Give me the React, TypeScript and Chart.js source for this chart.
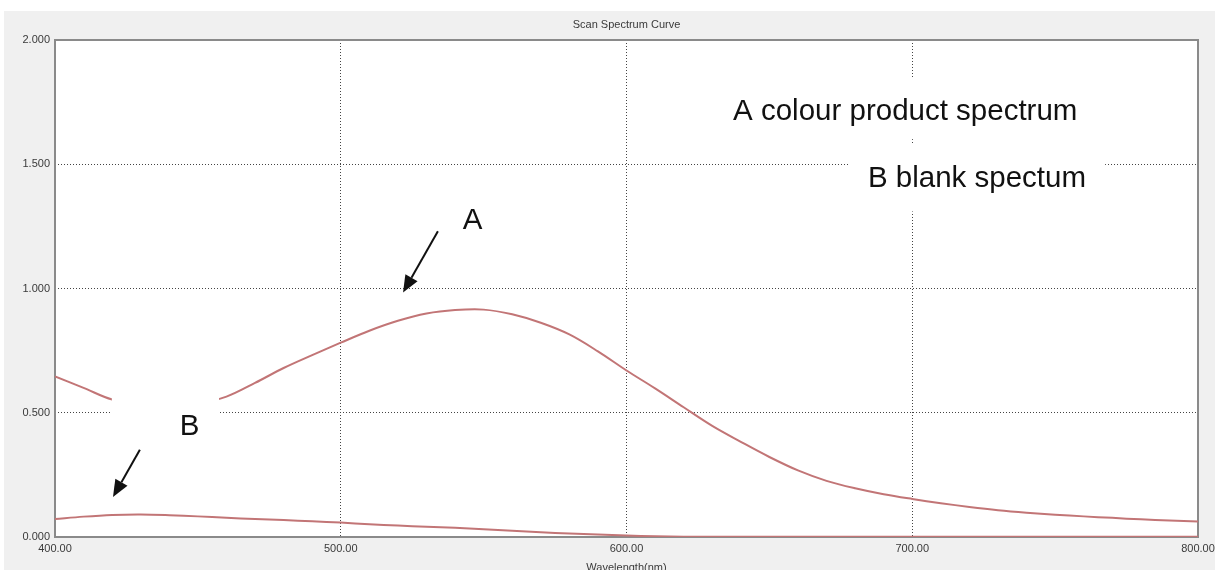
import React, { useEffect, useRef } from 'react';
import { Chart, registerables } from 'chart.js';

Chart.register(...registerables);

// Wavelength grid (nm) for both scans
const wavelengths = [
  400, 410, 420, 430, 440, 450, 460, 470, 480, 490,
  500, 510, 520, 530, 540, 550, 560, 570, 580, 590,
  600, 610, 620, 630, 640, 650, 660, 670, 680, 690,
  700, 710, 720, 730, 740, 750, 760, 770, 780, 790, 800,
];

// A: coloured product absorbance
const colourProduct = [
  0.646, 0.600, 0.553, 0.535, 0.530, 0.538, 0.565, 0.620, 0.680, 0.732,
  0.782, 0.830, 0.870, 0.899, 0.913, 0.915, 0.896, 0.862, 0.815, 0.747,
  0.670, 0.598, 0.522, 0.447, 0.383, 0.322, 0.268, 0.226, 0.196, 0.172,
  0.153, 0.136, 0.121, 0.108, 0.098, 0.090, 0.083, 0.077, 0.071, 0.066, 0.062,
];

// B: blank absorbance
const blankScan = [
  0.072, 0.082, 0.089, 0.091, 0.088, 0.083, 0.077, 0.072, 0.068, 0.063,
  0.058, 0.051, 0.046, 0.041, 0.037, 0.031, 0.025, 0.019, 0.014, 0.010,
  0.006, 0.003, 0.001, 0.001, 0.001, 0.001, 0.001, 0.001, 0.001, 0.001,
  0.001, 0.001, 0.001, 0.001, 0.001, 0.001, 0.001, 0.001, 0.001, 0.001, 0.001,
];

const xTickStep = 100;
const yTickStep = 0.5;
const chartTitle = 'Scan Spectrum Curve';
const xAxisTitle = 'Wavelength(nm)';

// Callout texts and arrows, positioned in data units (nm, absorbance)
const notes = [
  { text: 'A colour product spectrum', x: 637.3, y: 1.677, align: 'left' },
  { text: 'B blank spectum', x: 684.5, y: 1.407, align: 'left' },
  { text: 'A', x: 546.1, y: 1.238, align: 'center' },
  { text: 'B', x: 447.1, y: 0.411, align: 'center' },
];
// Opaque white text boxes: [x1, y1, x2, y2]
const noteBoxes = [
  [634.5, 1.843, 760.5, 1.601],
  [678.2, 1.581, 767.5, 1.310],
  [419.9, 0.573, 457.4, 0.331],
];
// Arrows: [fromX, fromY, toX, toY]
const arrows = [
  [534.0, 1.230, 521.8, 0.984],
  [429.7, 0.351, 420.3, 0.161],
];

const LINE_COLOR = '#c27576';
const FONT = "'Liberation Sans', Arial, sans-serif";

const decorPlugin = {
  id: 'decor',
  beforeDraw(chart: any) {
    const { ctx, width, height, chartArea } = chart;
    ctx.save();
    ctx.fillStyle = '#ffffff';
    ctx.fillRect(0, 0, width, height);
    ctx.fillStyle = '#f0f0f0';
    ctx.fillRect(4, 11, width - 4, height - 11);
    ctx.fillStyle = '#ffffff';
    ctx.fillRect(chartArea.left, chartArea.top, chartArea.right - chartArea.left, chartArea.bottom - chartArea.top);
    ctx.restore();
  },
  beforeDatasetsDraw(chart: any) {
    const { ctx, chartArea } = chart;
    ctx.save();
    ctx.strokeStyle = '#8a8a8a';
    ctx.lineWidth = 2;
    ctx.strokeRect(chartArea.left, chartArea.top, chartArea.right - chartArea.left, chartArea.bottom - chartArea.top);
    ctx.restore();
  },
  afterDatasetsDraw(chart: any) {
    const { ctx } = chart;
    const xs = chart.scales.x;
    const ys = chart.scales.y;
    ctx.save();
    // boxes
    ctx.fillStyle = '#ffffff';
    noteBoxes.forEach(([x1, y1, x2, y2]) => {
      const px1 = xs.getPixelForValue(x1);
      const px2 = xs.getPixelForValue(x2);
      const py1 = ys.getPixelForValue(y1);
      const py2 = ys.getPixelForValue(y2);
      ctx.fillRect(px1, py1, px2 - px1, py2 - py1);
    });
    // texts
    ctx.fillStyle = '#111111';
    ctx.font = `29.5px ${FONT}`;
    ctx.textBaseline = 'alphabetic';
    notes.forEach((n) => {
      ctx.textAlign = n.align as CanvasTextAlign;
      ctx.fillText(n.text, xs.getPixelForValue(n.x), ys.getPixelForValue(n.y));
    });
    // arrows
    ctx.strokeStyle = '#111111';
    ctx.lineWidth = 2;
    arrows.forEach(([fx, fy, tx, ty]) => {
      const x0 = xs.getPixelForValue(fx);
      const y0 = ys.getPixelForValue(fy);
      const x1 = xs.getPixelForValue(tx);
      const y1 = ys.getPixelForValue(ty);
      const ang = Math.atan2(y1 - y0, x1 - x0);
      const headLen = 17;
      const headHalf = 7;
      const bx = x1 - headLen * Math.cos(ang);
      const by = y1 - headLen * Math.sin(ang);
      ctx.beginPath();
      ctx.moveTo(x0, y0);
      ctx.lineTo(bx, by);
      ctx.stroke();
      ctx.beginPath();
      ctx.moveTo(x1, y1);
      ctx.lineTo(bx + headHalf * Math.sin(ang), by - headHalf * Math.cos(ang));
      ctx.lineTo(bx - headHalf * Math.sin(ang), by + headHalf * Math.cos(ang));
      ctx.closePath();
      ctx.fillStyle = '#111111';
      ctx.fill();
    });
    ctx.restore();
  },
  afterDraw(chart: any) {
    const { ctx, chartArea } = chart;
    const cx = (chartArea.left + chartArea.right) / 2;
    ctx.save();
    ctx.fillStyle = '#3a3a3a';
    ctx.font = `11px ${FONT}`;
    ctx.textAlign = 'center';
    ctx.textBaseline = 'middle';
    ctx.fillText(chartTitle, cx, 25);
    ctx.fillText(xAxisTitle, cx, chartArea.bottom + 31);
    ctx.restore();
  },
};

export default function App() {
  const canvasRef = useRef<HTMLCanvasElement | null>(null);

  useEffect(() => {
    if (!canvasRef.current) return;
    const chart = new Chart(canvasRef.current, {
      type: 'line',
      data: {
        datasets: [
          {
            label: 'A',
            data: wavelengths.map((w, i) => ({ x: w, y: colourProduct[i] })),
            borderColor: LINE_COLOR,
            borderWidth: 2,
            pointRadius: 0,
            tension: 0.35,
            fill: false,
          },
          {
            label: 'B',
            data: wavelengths.map((w, i) => ({ x: w, y: blankScan[i] })),
            borderColor: LINE_COLOR,
            borderWidth: 2,
            pointRadius: 0,
            tension: 0.35,
            fill: false,
          },
        ],
      },
      options: {
        animation: false,
        responsive: true,
        maintainAspectRatio: false,
        devicePixelRatio: 1,
        layout: { padding: { left: 0, top: 40, right: 17, bottom: 0 } },
        plugins: {
          legend: { display: false },
          title: { display: false },
          tooltip: { enabled: false },
        },
        scales: {
          x: {
            type: 'linear',
            min: 400,
            max: 800,
            ticks: {
              stepSize: xTickStep,
              padding: 5,
              color: '#3a3a3a',
              font: { family: FONT, size: 11 },
              maxRotation: 0,
              callback: (v: any) => Number(v).toFixed(2),
            },
            grid: { color: '#444444', lineWidth: 1, drawTicks: false },
            border: { display: false, dash: [1, 2] },
            afterFit: (scale: any) => {
              scale.height = 33;
              scale.paddingLeft = 0;
              scale.paddingRight = 0;
            },
          },
          y: {
            min: 0,
            max: 2,
            ticks: {
              stepSize: yTickStep,
              padding: 5,
              color: '#3a3a3a',
              font: { family: FONT, size: 11 },
              callback: (v: any) => Number(v).toFixed(3),
            },
            grid: { color: '#444444', lineWidth: 1, drawTicks: false },
            border: { display: false, dash: [1, 2] },
            afterFit: (scale: any) => {
              scale.width = 55;
              scale.paddingTop = 0;
              scale.paddingBottom = 0;
            },
          },
        },
      },
      plugins: [decorPlugin],
    });
    return () => chart.destroy();
  }, []);

  return (
    <div style={{ position: 'fixed', left: 0, top: 0, width: 1215, height: 570, background: '#fff' }}>
      <canvas ref={canvasRef} />
    </div>
  );
}
